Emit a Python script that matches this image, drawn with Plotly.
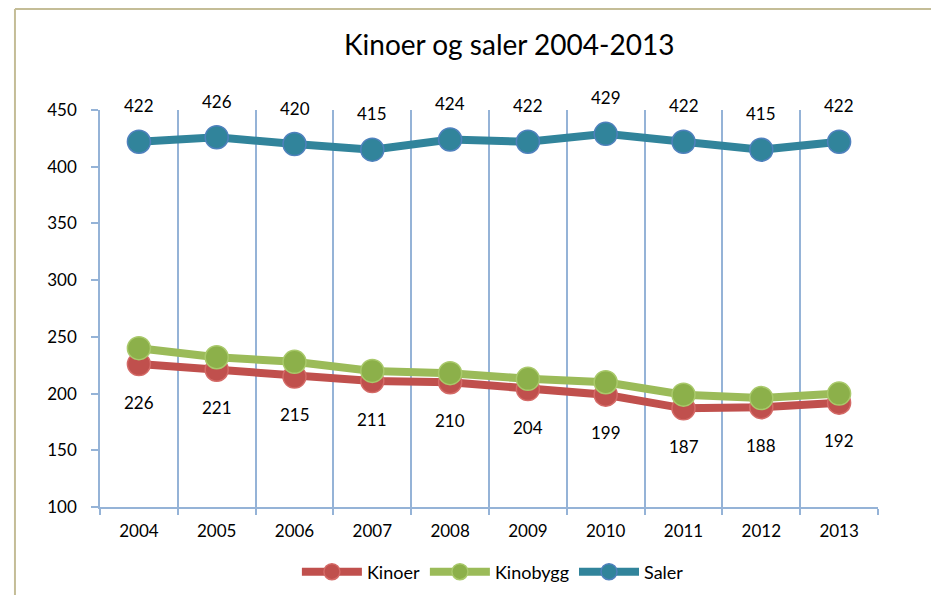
import plotly.graph_objects as go

AAR = ["2004", "2005", "2006", "2007", "2008", "2009", "2010", "2011", "2012", "2013"]
KINOER = [226, 221, 215, 211, 210, 204, 199, 187, 188, 192]
KINOBYGG = [240, 232, 228, 220, 218, 213, 210, 199, 196, 200]
SALER = [422, 426, 420, 415, 424, 422, 429, 422, 415, 422]

FONT = "Lato, Calibri, sans-serif"
GRID = "#95B3D7"

# siden har 8 px marg rundt figuren, så figuren gjøres 16 px mindre
W, H = 923, 587

fig = go.Figure()

serier = [
    ("Kinoer", KINOER, "#C0504D", "#C0504D", "#D46A67"),
    ("Kinobygg", KINOBYGG, "#9BBB59", "#8CB04A", "#A9C96B"),
    ("Saler", SALER, "#31849B", "#31849B", "#4F81BD"),
]
for navn, verdier, linjefarge, fyll, kant in serier:
    fig.add_trace(go.Scatter(
        x=AAR, y=verdier, name=navn, mode="lines+markers",
        line=dict(color=linjefarge, width=8),
        marker=dict(size=23, color=fyll, line=dict(color=kant, width=1.5)),
        hoverinfo="x+y+name",
    ))

# dataetiketter: Saler over, Kinoer under (x som kategoriindeks)
for i, v in enumerate(SALER):
    fig.add_annotation(x=i, y=v, text=str(v), showarrow=False, yshift=36,
                       font=dict(size=17, color="#000000", family=FONT))
for i, v in enumerate(KINOER):
    fig.add_annotation(x=i, y=v, text=str(v), showarrow=False, yshift=-38,
                       font=dict(size=17, color="#000000", family=FONT))

# ramme rundt diagramområdet (bare topp og venstre synlig)
ramme = "#C4BD97"
fig.add_shape(type="line", xref="paper", yref="paper", x0=-0.1093, y0=1.2544, x1=1.08, y1=1.2544,
              line=dict(color=ramme, width=2))
fig.add_shape(type="line", xref="paper", yref="paper", x0=-0.1093, y0=1.2544, x1=-0.1093, y1=-0.25,
              line=dict(color=ramme, width=2))

fig.update_layout(
    width=W, height=H,
    font=dict(family=FONT, size=17, color="#000000"),
    plot_bgcolor="white", paper_bgcolor="white",
    margin=dict(l=92, r=53, t=102, b=88),
    title=dict(text="Kinoer og saler 2004-2013", x=0.543, xanchor="center",
               y=1 - 37 / H, yanchor="middle", font=dict(size=28, family=FONT)),
    showlegend=True,
    legend=dict(orientation="h", x=0.505, xanchor="center", yref="container",
                y=1 - 564 / H, yanchor="middle", font=dict(size=18, family=FONT),
                itemwidth=60),
    xaxis=dict(type="category", range=[-0.5, len(AAR) - 0.5], tickson="boundaries",
               showgrid=True, gridcolor=GRID, gridwidth=1.5, showline=True,
               linecolor=GRID, linewidth=1.5, ticks="outside", ticklen=6,
               tickcolor=GRID, tickwidth=1.5, zeroline=False,
               tickfont=dict(size=17), tickangle=0, ticklabelstandoff=8),
    yaxis=dict(range=[100, 450], dtick=50, showgrid=False, showline=True,
               linecolor=GRID, linewidth=1.5, ticks="outside", ticklen=7,
               tickcolor=GRID, tickwidth=1.5, zeroline=False, tickfont=dict(size=17),
               ticklabelstandoff=11),
)

fig.write_html("out.html", config=dict(displayModeBar=False))
